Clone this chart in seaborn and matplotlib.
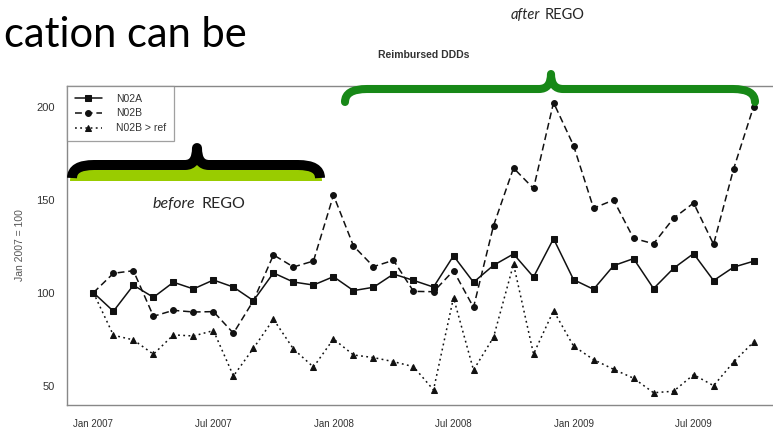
import numpy as np
import pandas as pd
import matplotlib
matplotlib.use("Agg")
import matplotlib.pyplot as plt
from matplotlib.path import Path
from matplotlib.patches import PathPatch
import seaborn as sns

# ---------------- data ----------------
months = list(range(34))  # Jan 2007 .. Oct 2009
n02a = [100, 90, 104, 97.5, 105.6, 102, 106.8, 103, 95.7, 110.6, 105.7, 104.1,
        108.6, 101.1, 102.9, 110, 106.6, 103, 119.8, 105.6, 114.7, 120.8,
        108.4, 129, 107, 101.8, 114.5, 118.3, 102.2, 113.1, 121, 106.5, 113.7, 116.9]
n02b = [100, 110.4, 111.8, 87.3, 90.5, 89.6, 89.8, 78.2, 95.7, 120.3, 113.8, 117,
        152.4, 125.1, 114, 117.4, 100.7, 100.5, 111.8, 92.1, 136, 167, 156,
        202.2, 179.1, 145.4, 149.8, 129.2, 126.3, 140, 148.2, 126, 166.5, 200]
n02b_ref = [100, 77.1, 74.6, 66.9, 77.3, 76.7, 79.6, 55.2, 70.1, 85.7, 69.7, 60,
            75.1, 66.5, 65.1, 62.9, 60.2, 47.7, 97.3, 58.4, 76, 115.3, 67, 90.3,
            71.3, 64, 58.8, 54, 46.2, 47, 55.9, 50, 62.7, 73.5]
series_names = ["N02A", "N02B", "N02B > ref"]
xtick_pos = [0, 6, 12, 18, 24, 30]
xtick_labels = ["Jan 2007", "Jul 2007", "Jan 2008", "Jul 2008", "Jan 2009", "Jul 2009"]
ytick_vals = [50, 100, 150, 200]

df = pd.DataFrame({
    "month": months * 3,
    "value": n02a + n02b + n02b_ref,
    "series": [series_names[0]] * 34 + [series_names[1]] * 34 + [series_names[2]] * 34,
})

# ---------------- figure ----------------
W, H = 773, 434
fig = plt.figure(figsize=(W / 100, H / 100), dpi=100)
fig.patch.set_facecolor("white")
sns.set_style("white")
plt.rcParams["font.family"] = ["Liberation Sans", "DejaVu Sans"]

ax = fig.add_axes([67 / W, (H - 405) / H, (780 - 67) / W, (405 - 86) / H])

sns.lineplot(
    data=df, x="month", y="value", hue="series", style="series", ax=ax,
    palette={s: "#111111" for s in series_names},
    markers={"N02A": "s", "N02B": "o", "N02B > ref": "^"},
    dashes={"N02A": "", "N02B": (4.5, 2.5), "N02B > ref": (1.2, 2.2)},
    markersize=4.2, linewidth=1.1, markeredgecolor="#111111", legend=True,
)

ax.set_xlim(-1.32, 34.32)
ax.set_ylim(39.6, 211.1)
ax.set_xticks(months, minor=True)
ax.set_xticks(xtick_pos)
ax.set_xticklabels(xtick_labels, fontsize=7, color="#333333")
ax.set_yticks(ytick_vals)
ax.set_yticklabels([str(v) for v in ytick_vals], fontsize=8, color="#333333")
ax.tick_params(axis="both", which="both", direction="out", length=5,
               color="#888888", width=0.8, pad=4)
ax.tick_params(axis="x", which="major", pad=5)
ax.tick_params(axis="x", which="minor", length=5)
ax.set_xlabel("")
ax.set_ylabel("Jan 2007 = 100", fontsize=7.5, color="#555555", labelpad=8)
for sp in ax.spines.values():
    sp.set_color("#888888")
    sp.set_linewidth(1.0)
ax.set_title("Reimbursed DDDs", fontsize=7.5, fontweight="bold", color="#333333", pad=20)

handles, labels = ax.get_legend_handles_labels()
leg = ax.legend(handles, labels, loc="upper left", bbox_to_anchor=(0, 1),
                fontsize=7.5, frameon=True, fancybox=False, borderaxespad=0,
                handlelength=2.6, handletextpad=1.4, labelspacing=0.45,
                borderpad=0.75)
leg.get_frame().set_edgecolor("#888888")
leg.get_frame().set_linewidth(0.9)
for t in leg.get_texts():
    t.set_color("#333333")


# ---------------- slide overlays ----------------
def brace_path(x0, x1, xm, yb, yl, yt, r, r2, closed=False):
    def P(x, y):
        return (x / W, 1 - y / H)
    verts = [P(x0, yb), P(x0, yl), P(x0 + r, yl),
             P(xm - r2, yl), P(xm, yl), P(xm, yt),
             P(xm, yl), P(xm + r2, yl),
             P(x1 - r, yl), P(x1, yl), P(x1, yb)]
    codes = [Path.MOVETO, Path.CURVE3, Path.CURVE3,
             Path.LINETO, Path.CURVE3, Path.CURVE3,
             Path.CURVE3, Path.CURVE3,
             Path.LINETO, Path.CURVE3, Path.CURVE3]
    if closed:
        verts.append(P(x0, yb))
        codes.append(Path.CLOSEPOLY)
    return Path(verts, codes)


# black brace with lime fill (before)
fig.patches.append(PathPatch(brace_path(70, 322, 197, 181, 165, 148, 24, 12, closed=True),
                             transform=fig.transFigure, facecolor="#99cc00",
                             edgecolor="none", zorder=10))
fig.patches.append(PathPatch(brace_path(72, 320, 197, 178, 165, 148, 22, 12),
                             transform=fig.transFigure, facecolor="none",
                             edgecolor="black", linewidth=7.2, capstyle="butt",
                             joinstyle="round", zorder=11))
# green brace (after)
fig.patches.append(PathPatch(brace_path(345, 755, 551, 102, 89, 74, 22, 12),
                             transform=fig.transFigure, facecolor="none",
                             edgecolor="#178817", linewidth=5.8, capstyle="round",
                             joinstyle="round", zorder=11))

txt_font = ["Lato", "DejaVu Sans"]
fig.text(4 / W, 1 - 47 / H, "cation can be", fontsize=30, family=txt_font,
         color="black", ha="left", va="baseline")
fig.text(540 / W, 1 - 19 / H, "after", fontsize=10.5, family=txt_font,
         style="italic", ha="right", va="baseline")
fig.text(545 / W, 1 - 19 / H, "REGO", fontsize=10.5, family=txt_font,
         ha="left", va="baseline")
fig.text(195 / W, 1 - 208 / H, "before", fontsize=11.5, family=txt_font,
         style="italic", ha="right", va="baseline")
fig.text(201 / W, 1 - 208 / H, "REGO", fontsize=11.5, family=txt_font,
         ha="left", va="baseline")

fig.savefig("out.png", dpi=100)
